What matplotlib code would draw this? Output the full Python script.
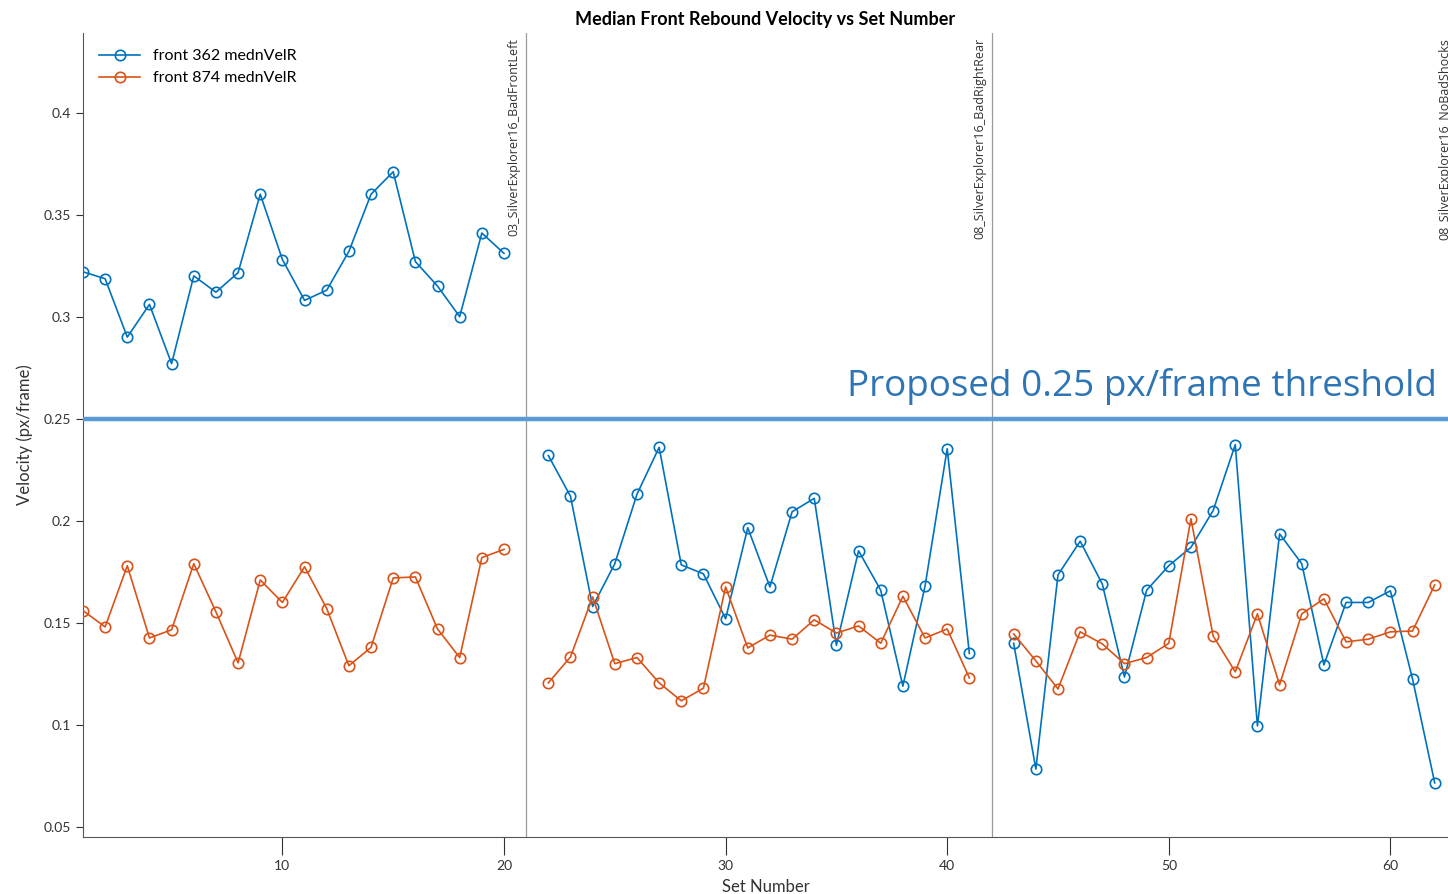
import numpy as np
import matplotlib.pyplot as plt
from matplotlib.ticker import MultipleLocator, FormatStrFormatter

plt.rcParams['font.family'] = ['Lato', 'DejaVu Sans']

# set numbers 1..62, sets 21 and 42 separate the three recordings
set_number = list(range(1, 63))

front362 = [0.322, 0.3186, 0.290, 0.306, 0.277, 0.320, 0.312, 0.3216, 0.360, 0.328,
            0.308, 0.313, 0.332, 0.360, 0.371, 0.327, 0.315, 0.300, 0.341, 0.331,
            np.nan,
            0.232, 0.212, 0.158, 0.179, 0.213, 0.236, 0.1784, 0.174, 0.152, 0.1966,
            0.1676, 0.2044, 0.211, 0.139, 0.1853, 0.166, 0.119, 0.168, 0.2353, 0.135,
            np.nan,
            0.140, 0.0784, 0.1735, 0.190, 0.169, 0.1235, 0.166, 0.178, 0.187, 0.205,
            0.2373, 0.0995, 0.1936, 0.179, 0.1294, 0.160, 0.160, 0.1657, 0.1225, 0.0716]

front874 = [0.156, 0.148, 0.178, 0.1426, 0.1466, 0.179, 0.1554, 0.1304, 0.171, 0.160,
            0.1775, 0.157, 0.129, 0.138, 0.172, 0.1725, 0.147, 0.133, 0.182, 0.186,
            np.nan,
            0.1206, 0.1333, 0.1627, 0.130, 0.133, 0.1206, 0.1118, 0.118, 0.1676, 0.1377,
            0.144, 0.142, 0.1515, 0.145, 0.1485, 0.140, 0.163, 0.1426, 0.147, 0.123,
            np.nan,
            0.1446, 0.1314, 0.1176, 0.1456, 0.1397, 0.130, 0.133, 0.140, 0.201, 0.1436,
            0.126, 0.1544, 0.1196, 0.1544, 0.1618, 0.1407, 0.142, 0.1456, 0.146, 0.1686]

splits = [21, 42, 63]
split_names = ['03_SilverExplorer16_BadFrontLeft',
               '08_SilverExplorer16_BadRightRear',
               '08_SilverExplorer16_NoBadShocks']
threshold = 0.25

fig = plt.figure(figsize=(14.48, 8.94), dpi=100)
ax = fig.add_axes([0.0573, 0.0638, 0.9427, 0.8993])

for s, name in zip(splits, split_names):
    ax.axvline(s, color='#9a9a9a', lw=0.9, zorder=1)
    ax.text(s - 0.25, 0.994, name, rotation=90, ha='right', va='top', fontsize=9,
            color='#333333', transform=ax.get_xaxis_transform(), clip_on=False,
            family=['Open Sans', 'DejaVu Sans'])

ax.plot(set_number, front362, 'o-', color='#0072BD', lw=1.2, ms=7.5,
        mfc='none', mew=1.2, label='front 362 mednVelR', zorder=3)
ax.plot(set_number, front874, 'o-', color='#D95319', lw=1.2, ms=7.5,
        mfc='none', mew=1.2, label='front 874 mednVelR', zorder=3)

# proposed cut-off line
ax.axhline(threshold, color='#5B9BD5', lw=3.2, zorder=4)
ax.text(62.1, threshold + 0.0065, 'Proposed 0.25 px/frame threshold', ha='right',
        va='bottom', fontsize=26.6, color='#2E75B6', zorder=5,
        family=['Open Sans', 'DejaVu Sans'])

ax.set_xlim(1, 62.6)
ax.set_ylim(0.0451, 0.439)
ax.xaxis.set_major_locator(MultipleLocator(10))
ax.yaxis.set_major_locator(MultipleLocator(0.05))
ax.yaxis.set_major_formatter(FormatStrFormatter('%g'))
ax.tick_params(axis='y', direction='out', length=5, labelsize=10, colors='#333333')
ax.tick_params(axis='x', direction='out', length=13, labelsize=10, colors='#333333')
for side in ['top', 'right']:
    ax.spines[side].set_visible(False)
for side in ['left', 'bottom']:
    ax.spines[side].set_color('#555555')

ax.set_xlabel('Set Number', fontsize=12, color='#333333', labelpad=5)
ax.set_ylabel('Velocity (px/frame)', fontsize=12, color='#333333', labelpad=8)
ax.set_title('Median Front Rebound Velocity vs Set Number', fontsize=13,
             fontweight='bold', pad=6)

ax.legend(loc='upper left', frameon=False, fontsize=11.5, handlelength=2.6,
          borderaxespad=0.6, labelspacing=0.5)

fig.savefig('out.png', dpi=100)
